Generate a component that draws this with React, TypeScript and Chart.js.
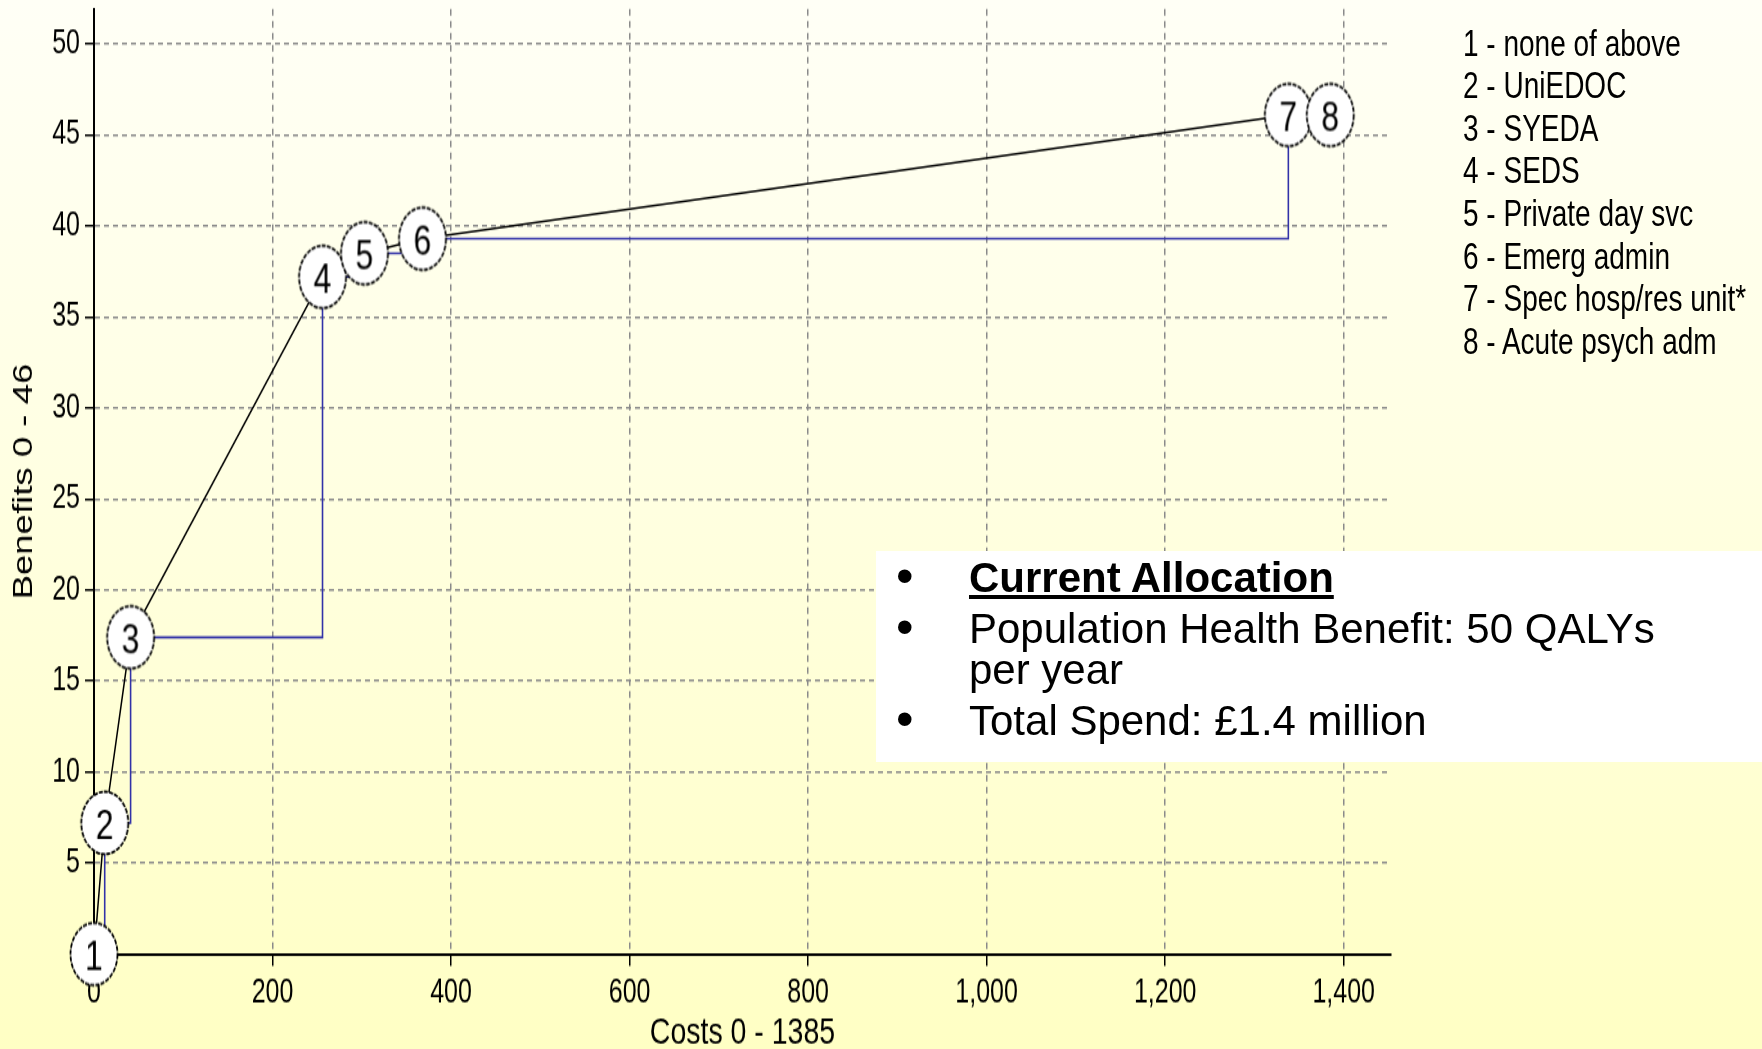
import React, { useEffect, useRef } from 'react';
import { Chart, registerables } from 'chart.js';

Chart.register(...registerables);

// ---------- data ----------
const optionIds = ['1', '2', '3', '4', '5', '6', '7', '8'];
const optionNames = [
  'none of above',
  'UniEDOC',
  'SYEDA',
  'SEDS',
  'Private day svc',
  'Emerg admin',
  'Spec hosp/res unit*',
  'Acute psych adm',
];
const costs = [0, 12, 41, 256, 303, 368, 1338, 1385];
const benefits = [0, 7.2, 17.4, 37.2, 38.5, 39.3, 46.1, 46.1];

const xTicks = [0, 200, 400, 600, 800, 1000, 1200, 1400];
const xTickLabels = ['0', '200', '400', '600', '800', '1,000', '1,200', '1,400'];
const yTicks = [5, 10, 15, 20, 25, 30, 35, 40, 45, 50];
const yTickLabels = ['5', '10', '15', '20', '25', '30', '35', '40', '45', '50'];

const xTitle = 'Costs 0 - 1385';
const yTitle = 'Benefits 0 - 46';

const summaryHeading = 'Current Allocation';
const summaryBenefit = ['Population Health Benefit: 50 QALYs', 'per year'];
const summarySpend = 'Total Spend: £1.4 million';

// ---------- layout ----------
const PAGE_W = 1762;
const PAGE_H = 1049;
const INNER_H = 789; // chart bitmap is stretched vertically to PAGE_H
const STRETCH = PAGE_H / INNER_H;
const PLOT_LEFT = 94;
const PLOT_RIGHT = 1391;
const PLOT_TOP = 9 / STRETCH;
const PLOT_BOTTOM = 954 / STRETCH;

const FONT = '"Liberation Sans", Arial, Helvetica, sans-serif';

function makeMarker(label: string): HTMLCanvasElement {
  const size = 54;
  const c = document.createElement('canvas');
  c.width = size;
  c.height = size;
  const ctx = c.getContext('2d')!;
  ctx.beginPath();
  ctx.arc(size / 2, size / 2, 23.5, 0, Math.PI * 2);
  ctx.fillStyle = '#ffffff';
  ctx.fill();
  ctx.setLineDash([4, 1.2]);
  ctx.lineWidth = 1.8;
  ctx.strokeStyle = '#000000';
  ctx.stroke();
  ctx.setLineDash([]);
  ctx.fillStyle = '#000000';
  ctx.font = '32px ' + FONT;
  ctx.textAlign = 'center';
  ctx.textBaseline = 'alphabetic';
  ctx.fillText(label, size / 2, size / 2 + 11.5);
  return c;
}

function ChartCanvas() {
  const ref = useRef<HTMLCanvasElement | null>(null);

  useEffect(() => {
    if (!ref.current) return;
    const pts = costs.map((c, i) => ({ x: c, y: benefits[i] }));
    const markers = optionIds.map((id) => makeMarker(id));

    const chart = new Chart(ref.current, {
      type: 'scatter',
      data: {
        datasets: [
          {
            label: 'options',
            data: pts,
            showLine: true,
            borderColor: '#000000',
            borderWidth: 1.5,
            pointStyle: markers as any,
            pointRadius: 24,
            pointHoverRadius: 24,
            clip: false as any,
            order: 0,
          },
          {
            label: 'steps',
            data: pts,
            showLine: true,
            stepped: 'before',
            borderColor: '#3232a8',
            borderWidth: 1.6,
            pointRadius: 0,
            pointHoverRadius: 0,
            order: 1,
          },
        ],
      },
      options: {
        responsive: false,
        animation: false,
        devicePixelRatio: 1,
        events: [],
        layout: {
          autoPadding: false,
          padding: { left: 0, top: PLOT_TOP, right: PAGE_W - PLOT_RIGHT, bottom: 0 },
        },
        plugins: {
          legend: { display: false },
          tooltip: { enabled: false },
        },
        scales: {
          x: {
            type: 'linear',
            position: 'bottom',
            min: 0,
            max: 1453,
            afterBuildTicks: (s: any) => {
              s.ticks = xTicks.map((v) => ({ value: v }));
            },
            afterFit: (s: any) => {
              s.height = INNER_H - PLOT_BOTTOM;
              s.paddingLeft = 0;
              s.paddingRight = 0;
            },
            ticks: {
              autoSkip: false,
              maxRotation: 0,
              padding: 6,
              color: '#000000',
              font: { family: FONT, size: 25 },
              callback: (_v: any, i: number) => xTickLabels[i],
            },
            grid: {
              color: '#8a8a8a',
              lineWidth: 1.5,
              tickLength: 9,
              tickColor: '#000000',
              tickWidth: 1.5,
            },
            border: { display: true, color: '#000000', width: 2, dash: [5, 4] },
            title: {
              display: true,
              text: xTitle,
              color: '#000000',
              font: { family: FONT, size: 28.5, lineHeight: 0.85 },
              padding: { top: 0, bottom: 0 },
            },
          },
          y: {
            type: 'linear',
            position: 'left',
            min: 0,
            max: 51.92,
            afterBuildTicks: (s: any) => {
              s.ticks = yTicks.map((v) => ({ value: v }));
            },
            afterFit: (s: any) => {
              s.width = PLOT_LEFT;
              s.paddingTop = 0;
              s.paddingBottom = 0;
            },
            ticks: {
              autoSkip: false,
              padding: 5,
              color: '#000000',
              font: { family: FONT, size: 25 },
              callback: (_v: any, i: number) => yTickLabels[i],
            },
            grid: {
              color: '#8a8a8a',
              lineWidth: 1.5,
              tickLength: 9,
              tickColor: '#000000',
              tickWidth: 1.5,
            },
            border: { display: true, color: '#000000', width: 2, dash: [5, 4] },
            title: {
              display: true,
              text: yTitle,
              color: '#000000',
              font: { family: FONT, size: 27.5 },
              padding: { top: 8, bottom: 0 },
            },
          },
        },
      } as any,
    });
    return () => chart.destroy();
  }, []);

  return (
    <canvas
      ref={ref}
      width={PAGE_W}
      height={INNER_H}
      style={{ display: 'block', width: PAGE_W, height: INNER_H }}
    />
  );
}

const bulletStyle: React.CSSProperties = {
  position: 'absolute',
  left: 20,
  top: -1,
  fontSize: 50,
  lineHeight: '41px',
};

export default function App() {
  return (
    <div
      style={{
        position: 'absolute',
        left: 0,
        top: 0,
        width: PAGE_W,
        height: PAGE_H,
        overflow: 'hidden',
        background: 'linear-gradient(to bottom, #fffff6 0%, #ffffe2 45%, #ffffc4 100%)',
      }}
    >
      <div
        style={{
          position: 'absolute',
          left: 0,
          top: 0,
          width: PAGE_W,
          height: INNER_H,
          transform: `scaleY(${STRETCH})`,
          transformOrigin: '0 0',
        }}
      >
        <ChartCanvas />
        <div
          style={{
            position: 'absolute',
            left: 1463,
            top: 16.6,
            fontFamily: FONT,
            fontSize: 28,
            lineHeight: '32.1px',
            color: '#000000',
            whiteSpace: 'nowrap',
          }}
        >
          {optionNames.map((n, i) => (
            <div key={i}>{optionIds[i] + ' - ' + n}</div>
          ))}
        </div>
      </div>

      <div
        style={{
          position: 'absolute',
          left: 876,
          top: 551,
          width: PAGE_W - 876,
          height: 211,
          background: '#ffffff',
          fontFamily: FONT,
          fontSize: 42,
          lineHeight: '41px',
          color: '#000000',
          whiteSpace: 'nowrap',
        }}
      >
        <div style={{ position: 'relative', marginTop: 6, paddingLeft: 93 }}>
          <span style={bulletStyle}>•</span>
          <span style={{ fontWeight: 'bold', textDecoration: 'underline' }}>{summaryHeading}</span>
        </div>
        <div style={{ position: 'relative', marginTop: 10, paddingLeft: 93 }}>
          <span style={bulletStyle}>•</span>
          {summaryBenefit[0]}
          <br />
          {summaryBenefit[1]}
        </div>
        <div style={{ position: 'relative', marginTop: 10, paddingLeft: 93 }}>
          <span style={bulletStyle}>•</span>
          {summarySpend}
        </div>
      </div>
    </div>
  );
}
